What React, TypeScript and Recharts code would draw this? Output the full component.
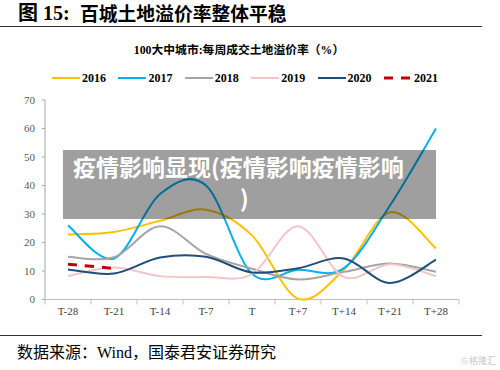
import React from 'react';
import { LineChart, Line, XAxis, YAxis, Legend } from 'recharts';

const categories = ['T-28', 'T-21', 'T-14', 'T-7', 'T', 'T+7', 'T+14', 'T+21', 'T+28'];
const s2016 = [22.8, 23.7, 27.6, 31.5, 22.5, 0.3, 10.5, 30.6, 17.9];
const s2017 = [26, 14.4, 37, 40, 9, 10.4, 11, 33, 60];
const s2018 = [15, 14.8, 25.7, 16, 10.8, 7, 9.7, 12.6, 9.7];
const s2019 = [8.2, 11.2, 8.2, 7.9, 8.9, 25.7, 7.9, 12.4, 8.2];
const s2020 = [10.5, 9.1, 14.7, 15, 9.5, 11, 14.4, 5.8, 14];
const s2021 = [12.4, 10.9, null, null, null, null, null, null, null];
const yTicks = [0, 10, 20, 30, 40, 50, 60, 70];

const seriesList = [
  { key: '2016', values: s2016, color: '#FFC000', width: 2, dash: undefined as string | undefined },
  { key: '2017', values: s2017, color: '#00B0F0', width: 2, dash: undefined },
  { key: '2018', values: s2018, color: '#A5A5A5', width: 2, dash: undefined },
  { key: '2019', values: s2019, color: '#F2C6C6', width: 2, dash: undefined },
  { key: '2020', values: s2020, color: '#1F4E79', width: 2, dash: undefined },
  { key: '2021', values: s2021, color: '#C00000', width: 3, dash: '9 8' },
];

const data = categories.map((c, i) => {
  const row: Record<string, any> = { cat: c };
  seriesList.forEach((s) => {
    row[s.key] = s.values[i];
  });
  return row;
});

const CHART_W = 500;
const CHART_H = 370;
const MARGIN = { top: 100, right: 41, bottom: 40.5, left: 0 };
const Y_AXIS_W = 45;
const PLOT_W = CHART_W - MARGIN.left - MARGIN.right - Y_AXIS_W;
const HALF_BAND = PLOT_W / categories.length / 2;

// Catmull-Rom style smoothing (like spreadsheet "smoothed line")
function smoothCurve(context: any) {
  let pts: number[][] = [];
  return {
    areaStart() {},
    areaEnd() {},
    lineStart() {
      pts = [];
    },
    point(x: number, y: number) {
      pts.push([+x, +y]);
    },
    lineEnd() {
      const n = pts.length;
      if (!n) return;
      context.moveTo(pts[0][0], pts[0][1]);
      if (n === 1) {
        context.lineTo(pts[0][0], pts[0][1]);
        return;
      }
      for (let i = 0; i < n - 1; i++) {
        const p0 = pts[i > 0 ? i - 1 : i];
        const p1 = pts[i];
        const p2 = pts[i + 1];
        const p3 = pts[i + 2 < n ? i + 2 : i + 1];
        context.bezierCurveTo(
          p1[0] + (p2[0] - p0[0]) / 6,
          p1[1] + (p2[1] - p0[1]) / 6,
          p2[0] - (p3[0] - p1[0]) / 6,
          p2[1] - (p3[1] - p1[1]) / 6,
          p2[0],
          p2[1]
        );
      }
    },
  };
}

const XTick = (props: any) => {
  const { x, y, payload, index } = props;
  const axisY = y - 8;
  return (
    <g>
      <line x1={x - HALF_BAND} y1={axisY} x2={x - HALF_BAND} y2={axisY + 5} stroke="#BFBFBF" strokeWidth={1} />
      {index === categories.length - 1 && (
        <line x1={x + HALF_BAND} y1={axisY} x2={x + HALF_BAND} y2={axisY + 5} stroke="#BFBFBF" strokeWidth={1} />
      )}
      <text x={x} y={y} dy="0.71em" textAnchor="middle" fontSize={11} fill="#404040" fontFamily='"Liberation Serif", serif'>
        {payload.value}
      </text>
    </g>
  );
};

const renderLegend = () => (
  <div style={{ position: 'relative', width: 500, height: 16 }}>
    {seriesList.map((s, i) => (
      <div
        key={s.key}
        style={{ position: 'absolute', left: 52 + i * 66.4, top: 0, height: 16, display: 'flex', alignItems: 'center' }}
      >
        <svg width={28} height={6} style={{ display: 'block' }}>
          <line x1={0} y1={3} x2={28} y2={3} stroke={s.color} strokeWidth={s.width} strokeDasharray={s.dash} />
        </svg>
        <span
          style={{
            marginLeft: 2,
            fontSize: 12,
            fontWeight: 'bold',
            color: '#000',
            fontFamily: '"Liberation Serif", serif',
            lineHeight: '16px',
          }}
        >
          {s.key}
        </span>
      </div>
    ))}
  </div>
);

export default function App() {
  return (
    <div
      style={{
        position: 'fixed',
        top: 0,
        left: 0,
        width: 500,
        height: 370,
        background: '#fff',
        overflow: 'hidden',
        fontFamily: '"Liberation Serif", "Noto Sans CJK SC", serif',
      }}
    >
      {/* Figure title */}
      <div style={{ position: 'absolute', left: 18, top: 2, fontSize: 20, fontWeight: 'bold', color: '#000', whiteSpace: 'nowrap', lineHeight: '22px' }}>
        <span>图 15:</span>
      </div>
      <div
        style={{
          position: 'absolute',
          left: 80,
          top: 2,
          fontSize: 18.8,
          fontWeight: 'bold',
          color: '#000',
          whiteSpace: 'nowrap',
          lineHeight: '22px',
          fontFamily: '"Noto Sans CJK SC", sans-serif',
        }}
      >
        百城土地溢价率整体平稳
      </div>
      <div style={{ position: 'absolute', left: 0, top: 26, width: 482, height: 1.4, background: '#333' }} />

      {/* Chart title */}
      <div
        style={{
          position: 'absolute',
          left: 0,
          width: 478,
          textAlign: 'center',
          top: 43,
          fontSize: 11.8,
          fontWeight: 'bold',
          color: '#000',
          whiteSpace: 'nowrap',
          lineHeight: '14px',
        }}
      >
        100大中城市:每周成交土地溢价率（%）
      </div>

      <div style={{ position: 'absolute', left: 0, top: 0 }}>
        <LineChart width={CHART_W} height={CHART_H} data={data} margin={MARGIN}>
          <XAxis
            dataKey="cat"
            stroke="#BFBFBF"
            tickLine={false}
            tickSize={6}
            tickMargin={2}
            height={30}
            interval={0}
            padding={{ left: HALF_BAND, right: HALF_BAND }}
            tick={<XTick />}
          />
          <YAxis
            width={Y_AXIS_W}
            domain={[0, 70]}
            ticks={yTicks}
            stroke="#A6A6A6"
            tickSize={3}
            tickMargin={7}
            tick={{ fontSize: 11, fill: '#595959', fontFamily: '"Liberation Serif", serif' }}
            interval={0}
          />
          <Legend
            layout="horizontal"
            verticalAlign="middle"
            align="center"
            content={renderLegend}
            wrapperStyle={{ top: 70, left: 0, width: 500, height: 16 }}
          />
          {seriesList.map((s) => (
            <Line
              key={s.key}
              dataKey={s.key}
              type={smoothCurve as any}
              stroke={s.color}
              strokeWidth={s.width}
              strokeDasharray={s.dash}
              dot={false}
              activeDot={false}
              isAnimationActive={false}
              connectNulls={false}
            />
          ))}
        </LineChart>
      </div>

      {/* Overlay banner */}
      <div
        style={{
          position: 'absolute',
          left: 63,
          top: 150,
          width: 373,
          height: 69,
          background: 'rgba(0,0,0,0.376)',
          zIndex: 5,
        }}
      />
      <div
        style={{
          position: 'absolute',
          left: 73,
          top: 152,
          zIndex: 6,
          color: '#fff',
          fontSize: 23,
          fontWeight: 'bold',
          whiteSpace: 'nowrap',
          lineHeight: '29px',
          fontFamily: '"Noto Sans CJK SC", sans-serif',
        }}
      >
        疫情影响显现(疫情影响疫情影响
      </div>
      <div
        style={{
          position: 'absolute',
          left: 240,
          top: 183,
          zIndex: 6,
          color: '#fff',
          fontSize: 23,
          fontWeight: 'bold',
          whiteSpace: 'nowrap',
          lineHeight: '29px',
          fontFamily: '"Noto Sans CJK SC", sans-serif',
        }}
      >
        )
      </div>

      {/* Footer */}
      <div style={{ position: 'absolute', left: 0, top: 335, width: 482, height: 1.2, background: '#333' }} />
      <div
        style={{
          position: 'absolute',
          left: 17,
          top: 343,
          fontSize: 16,
          color: '#000',
          whiteSpace: 'nowrap',
          lineHeight: '20px',
        }}
      >
        数据来源：Wind，国泰君安证券研究
      </div>
      <div
        style={{
          position: 'absolute',
          left: 460,
          top: 355,
          fontSize: 9,
          color: '#C8C8C8',
          whiteSpace: 'nowrap',
          lineHeight: '11px',
          fontFamily: '"Noto Sans CJK SC", sans-serif',
        }}
      >
        Ⓖ格隆汇
      </div>
    </div>
  );
}
